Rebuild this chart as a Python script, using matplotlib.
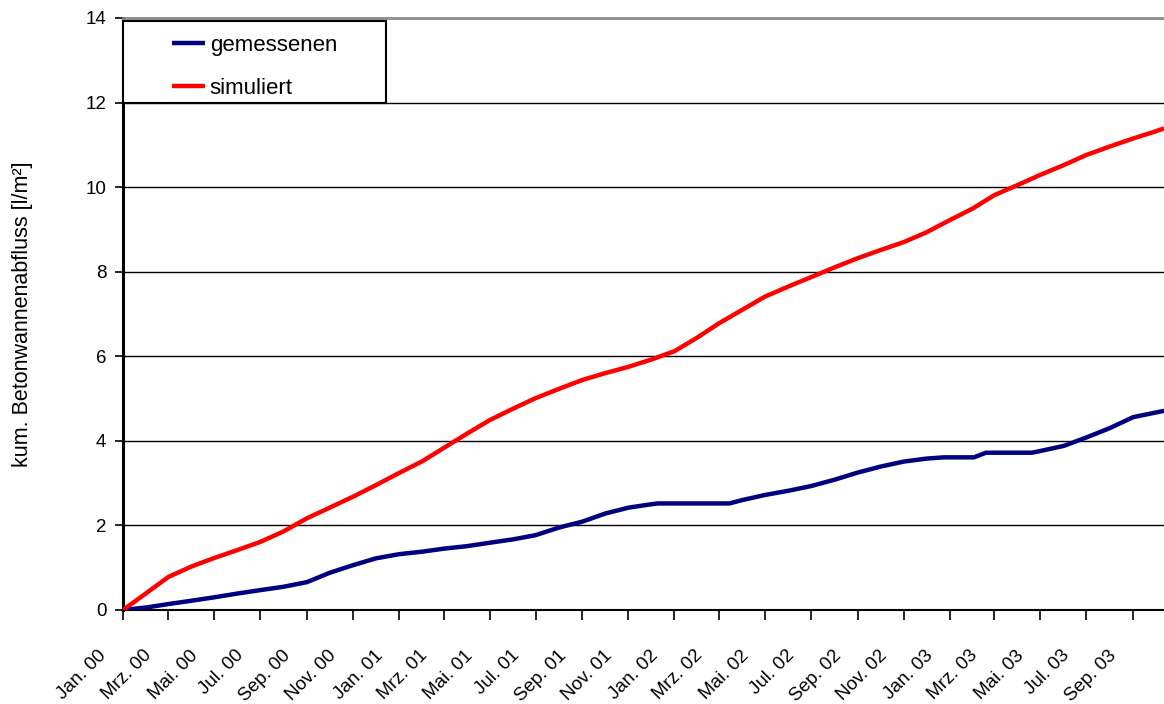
import matplotlib
matplotlib.use("Agg")
import matplotlib.pyplot as plt
from matplotlib.patches import Rectangle
from matplotlib.transforms import offset_copy, blended_transform_factory
import numpy as np

plt.rcParams['font.family'] = ['Liberation Sans', 'DejaVu Sans']

# Cumulative runoff of the concrete basin [l/m²]
simulated_dates = [
    '2000-01-01', '2000-02-01', '2000-03-01', '2000-04-01', '2000-05-01', '2000-06-01',
    '2000-07-01', '2000-08-01', '2000-09-01', '2000-10-01', '2000-11-01', '2000-12-01',
    '2001-01-01', '2001-02-01', '2001-03-01', '2001-04-01', '2001-05-01', '2001-06-01',
    '2001-07-01', '2001-08-01', '2001-09-01', '2001-10-01', '2001-11-01', '2001-12-01',
    '2002-01-01', '2002-02-01', '2002-03-01', '2002-04-01', '2002-05-01', '2002-06-01',
    '2002-07-01', '2002-08-01', '2002-09-01', '2002-10-01', '2002-11-01', '2002-12-01',
    '2003-01-01', '2003-02-01', '2003-03-01', '2003-04-01', '2003-05-01', '2003-06-01',
    '2003-07-01', '2003-08-01', '2003-09-01', '2003-10-01', '2003-10-12',
]
simulated_values = [
    0.00, 0.40, 0.78, 1.03, 1.23, 1.42,
    1.61, 1.86, 2.17, 2.42, 2.68, 2.95,
    3.24, 3.52, 3.83, 4.17, 4.49, 4.76,
    5.01, 5.23, 5.44, 5.60, 5.75, 5.92,
    6.12, 6.45, 6.78, 7.10, 7.41, 7.65,
    7.87, 8.10, 8.32, 8.51, 8.70, 8.93,
    9.22, 9.50, 9.81, 10.05, 10.29, 10.52,
    10.76, 10.96, 11.15, 11.32, 11.39,
]

measured_dates = [
    '2000-01-01', '2000-02-01', '2000-03-01', '2000-04-01', '2000-05-01', '2000-06-01',
    '2000-07-01', '2000-08-01', '2000-09-01', '2000-10-01', '2000-11-01', '2000-12-01',
    '2001-01-01', '2001-02-01', '2001-03-01', '2001-04-01', '2001-05-01', '2001-06-01',
    '2001-07-01', '2001-08-01', '2001-09-01', '2001-10-01', '2001-11-01', '2001-12-01',
    '2001-12-10', '2002-01-01', '2002-02-01', '2002-03-01', '2002-03-15', '2002-04-01',
    '2002-05-01', '2002-06-01', '2002-07-01', '2002-08-01', '2002-09-01', '2002-10-01',
    '2002-11-01', '2002-12-01', '2002-12-24', '2003-01-01', '2003-02-02', '2003-02-18',
    '2003-03-01', '2003-04-01', '2003-04-20', '2003-05-01', '2003-06-01', '2003-07-01',
    '2003-08-01', '2003-09-01', '2003-10-01', '2003-10-12',
]
measured_values = [
    0.00, 0.06, 0.14, 0.22, 0.30, 0.39,
    0.47, 0.55, 0.66, 0.88, 1.06, 1.22,
    1.32, 1.38, 1.45, 1.51, 1.59, 1.67,
    1.77, 1.95, 2.09, 2.28, 2.42, 2.50,
    2.52, 2.52, 2.52, 2.52, 2.52, 2.60,
    2.72, 2.82, 2.93, 3.08, 3.25, 3.39,
    3.51, 3.58, 3.61, 3.61, 3.61, 3.72,
    3.72, 3.72, 3.72, 3.76, 3.88, 4.08,
    4.30, 4.56, 4.67, 4.71,
]

tick_dates = [
    '2000-01-01', '2000-03-01', '2000-05-01', '2000-07-01', '2000-09-01', '2000-11-01',
    '2001-01-01', '2001-03-01', '2001-05-01', '2001-07-01', '2001-09-01', '2001-11-01',
    '2002-01-01', '2002-03-01', '2002-05-01', '2002-07-01', '2002-09-01', '2002-11-01',
    '2003-01-01', '2003-03-01', '2003-05-01', '2003-07-01', '2003-09-01',
]
tick_labels = [
    'Jan. 00', 'Mrz. 00', 'Mai. 00', 'Jul. 00', 'Sep. 00', 'Nov. 00',
    'Jan. 01', 'Mrz. 01', 'Mai. 01', 'Jul. 01', 'Sep. 01', 'Nov. 01',
    'Jan. 02', 'Mrz. 02', 'Mai. 02', 'Jul. 02', 'Sep. 02', 'Nov. 02',
    'Jan. 03', 'Mrz. 03', 'Mai. 03', 'Jul. 03', 'Sep. 03',
]
y_ticks = [0, 2, 4, 6, 8, 10, 12, 14]

W, H = 1164, 704
fig = plt.figure(figsize=(W / 100, H / 100), dpi=100)
ax = fig.add_axes([123 / W, 1 - 610 / H, (W - 123) / W, (610 - 18) / H])

sim_x = np.array(simulated_dates, dtype='datetime64[D]')
mea_x = np.array(measured_dates, dtype='datetime64[D]')
tick_x = np.array(tick_dates, dtype='datetime64[D]')

l_mea, = ax.plot(mea_x, measured_values, color='#000080', lw=3.2,
                 solid_capstyle='butt', label='gemessenen', zorder=3)
l_sim, = ax.plot(sim_x, simulated_values, color='#FF0000', lw=3.2,
                 solid_capstyle='butt', label='simuliert', zorder=3)

ax.set_xlim(np.datetime64('2000-01-01'), np.datetime64('2003-10-12'))
ax.set_ylim(0, 14)

# Horizontal grid
ax.set_yticks(y_ticks)
for v in y_ticks[1:-1]:
    ax.axhline(v, color='black', lw=1.0, zorder=1)

ax.tick_params(axis='y', direction='out', length=6, width=1.2, pad=6,
               labelsize=13.5, colors='black')
ax.tick_params(axis='x', direction='out', length=7, width=1.2,
               labelbottom=False, colors='black')

# Month labels, slanted below the ticks
ax.set_xticks(tick_x)
label_tr = offset_copy(ax.get_xaxis_transform(), fig=fig, x=-19, y=-43,
                       units='dots')
for d, lab in zip(tick_x, tick_labels):
    ax.text(d, 0, lab, transform=label_tr, rotation=45, ha='right',
            va='center', rotation_mode='anchor', fontsize=13.5,
            clip_on=False)

ax.spines['right'].set_visible(False)
ax.spines['left'].set_linewidth(2.2)
ax.spines['bottom'].set_linewidth(1.5)
ax.spines['top'].set_color('#8a8a8a')
ax.spines['top'].set_linewidth(2.0)

ax.set_ylabel('kum. Betonwannenabfluss [l/m²]', fontsize=15.5)
ax.yaxis.set_label_coords(33 / W, 0.5,
                          transform=blended_transform_factory(fig.transFigure,
                                                              ax.transAxes))

# Legend box
fig.patches.append(Rectangle((123 / W, 1 - 103 / H), 263 / W, 82 / H,
                             transform=fig.transFigure, facecolor='white',
                             edgecolor='black', lw=1.5, zorder=4))
leg = fig.legend(handles=[l_mea, l_sim], loc='upper left',
                 bbox_to_anchor=(172 / W, 1 - 35 / H), frameon=False,
                 fontsize=16, borderpad=0, borderaxespad=0,
                 handlelength=1.5, handletextpad=0.2, labelspacing=1.0)
leg.set_zorder(5)

fig.savefig('out.png', dpi=100)
